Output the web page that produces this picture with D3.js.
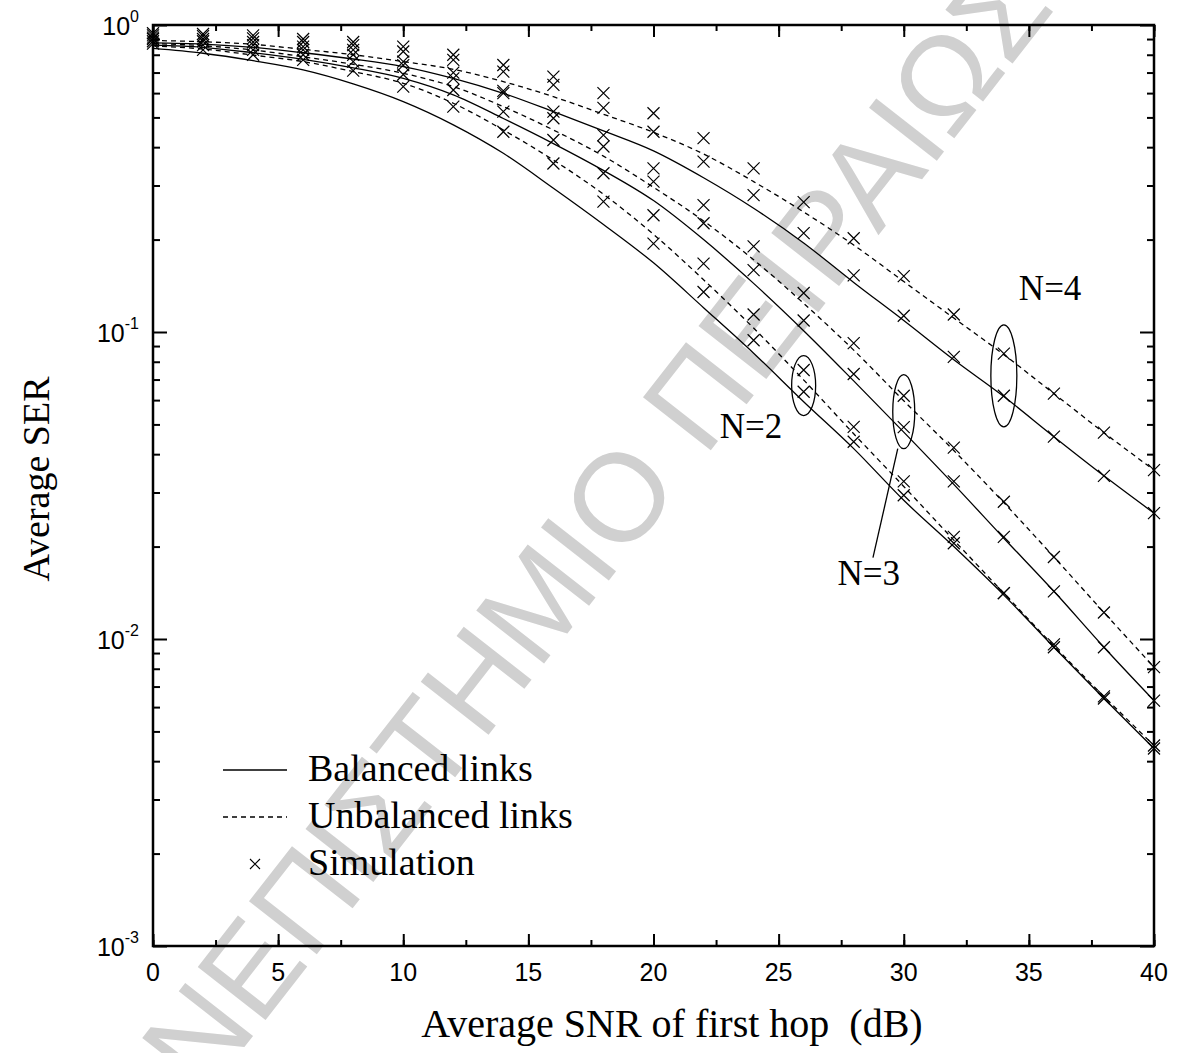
<!DOCTYPE html>
<html>
<head>
<meta charset="utf-8">
<script src="https://cdn.jsdelivr.net/npm/d3@7"></script>
<style>
  body { margin: 0; background: #fff; }
</style>
</head>
<body>
<div id="chart"></div>
<script>
'use strict';

// x values: average SNR of first hop (dB)
var snr = [0, 2, 4, 6, 8, 10, 12, 14, 16, 18, 20, 22, 24, 26, 28, 30, 32, 34, 36, 38, 40];

// analytical curves (average SER)
var n2Balanced   = [0.839, 0.809, 0.765, 0.714, 0.643, 0.563, 0.473, 0.382, 0.294, 0.224, 0.168, 0.120, 0.0853, 0.0593, 0.0417, 0.0283, 0.0200, 0.0139, 0.0094, 0.0064, 0.0044];
var n2Unbalanced = [0.855, 0.835, 0.798, 0.760, 0.705, 0.646, 0.556, 0.455, 0.363, 0.281, 0.208, 0.148, 0.103, 0.0698, 0.0466, 0.0314, 0.0210, 0.0141, 0.0095, 0.0065, 0.0045];
var n3Balanced   = [0.860, 0.846, 0.812, 0.773, 0.725, 0.670, 0.592, 0.496, 0.411, 0.336, 0.268, 0.200, 0.144, 0.101, 0.0693, 0.0472, 0.0319, 0.0213, 0.0143, 0.0094, 0.0063];
var n3Unbalanced = [0.870, 0.856, 0.829, 0.788, 0.745, 0.696, 0.630, 0.542, 0.455, 0.374, 0.296, 0.230, 0.172, 0.124, 0.0873, 0.0597, 0.0411, 0.0278, 0.0185, 0.0122, 0.0081];
var n4Balanced   = [0.875, 0.867, 0.846, 0.812, 0.775, 0.732, 0.670, 0.599, 0.522, 0.452, 0.389, 0.318, 0.253, 0.195, 0.145, 0.109, 0.0812, 0.0616, 0.0456, 0.034, 0.0257];
var n4Unbalanced = [0.890, 0.882, 0.865, 0.833, 0.800, 0.760, 0.717, 0.654, 0.584, 0.512, 0.447, 0.380, 0.309, 0.246, 0.192, 0.146, 0.111, 0.0844, 0.063, 0.047, 0.0355];

// simulation points
var simN2Balanced   = [0.870, 0.830, 0.800, 0.770, 0.710, 0.630, 0.542, 0.449, 0.354, 0.266, 0.194, 0.135, 0.094, 0.0639, 0.0439, 0.0294, 0.0205, 0.0141, 0.0094, 0.0064, 0.0044];
var simN2Unbalanced = [0.885, 0.860, 0.830, 0.800, 0.760, 0.690, 0.614, 0.522, 0.422, 0.329, 0.240, 0.167, 0.114, 0.0752, 0.0491, 0.0326, 0.0215, 0.0141, 0.0096, 0.0065, 0.0045];
var simN3Balanced   = [0.900, 0.885, 0.860, 0.830, 0.800, 0.740, 0.670, 0.600, 0.497, 0.402, 0.309, 0.226, 0.159, 0.109, 0.073, 0.049, 0.0326, 0.0215, 0.0143, 0.0094, 0.0063];
var simN3Unbalanced = [0.910, 0.900, 0.880, 0.850, 0.830, 0.760, 0.700, 0.610, 0.522, 0.438, 0.341, 0.259, 0.190, 0.134, 0.092, 0.062, 0.042, 0.028, 0.0185, 0.0122, 0.0081];
var simN4Balanced   = [0.925, 0.920, 0.905, 0.880, 0.860, 0.820, 0.770, 0.705, 0.638, 0.537, 0.449, 0.359, 0.279, 0.210, 0.153, 0.113, 0.083, 0.062, 0.0456, 0.034, 0.0257];
var simN4Unbalanced = [0.940, 0.935, 0.925, 0.900, 0.880, 0.850, 0.800, 0.741, 0.679, 0.600, 0.516, 0.428, 0.341, 0.265, 0.202, 0.152, 0.114, 0.085, 0.063, 0.047, 0.0355];

// ticks
var xTickLabels = [0, 5, 10, 15, 20, 25, 30, 35, 40];
var yTickExponents = [0, -1, -2, -3];

// annotations: ellipse centre (snr, ser), radii (px), label position (snr, ser)
var groups = [
  { name: 'N=2', cx: 26, cy: 0.0669, rx: 12, ry: 30, lx: 22.65, ly: 0.0452 },
  { name: 'N=3', cx: 30, cy: 0.0550, rx: 11, ry: 37, lx: 27.35, ly: 0.0150 },
  { name: 'N=4', cx: 34, cy: 0.0720, rx: 13, ry: 51, lx: 34.6, ly: 0.1270 }
];
// leader line end of N=3 (snr, ser)
var leaderEnd = [28.77, 0.0184];

var width = 1179, height = 1053;
var serif = '"Liberation Serif", "Times New Roman", Times, serif';
var sans = '"Liberation Sans", Arial, Helvetica, sans-serif';

var svg = d3.select('#chart')
  .append('svg')
  .attr('width', width)
  .attr('height', height)
  .style('display', 'block');

var x = d3.scaleLinear().domain([0, 40]).range([153, 1154]);
var y = d3.scaleLog().domain([1e-3, 1]).range([946, 25]);

// watermark
svg.append('text')
  .attr('transform', 'translate(542,595) rotate(-52)')
  .attr('text-anchor', 'middle')
  .attr('dy', '0.35em')
  .style('font-family', sans)
  .style('font-size', '125px')
  .attr('fill', '#d0d0d0')
  .text('ΠΑΝΕΠΙΣΤΗΜΙΟ ΠΕΙΡΑΙΩΣ');

// axes (ticks point inwards)
var xMinor = d3.range(0, 40.01, 2.5);
var yMajor = [1, 0.1, 0.01, 0.001];
var yMinor = y.ticks().filter(function(v){ return yMajor.indexOf(v) < 0; });

function tickAxis(axis, scale, values, size, tr) {
  var g = svg.append('g')
    .attr('transform', tr)
    .call(axis(scale).tickValues(values).tickSize(size).tickFormat(''));
  g.select('.domain').remove();
  g.selectAll('line').attr('stroke', '#000').attr('stroke-width', 2);
  return g;
}
tickAxis(d3.axisBottom, x, xMinor, -6, 'translate(0,946)');
tickAxis(d3.axisBottom, x, xTickLabels, -12, 'translate(0,946)');
tickAxis(d3.axisTop, x, xMinor, -6, 'translate(0,25)');
tickAxis(d3.axisTop, x, xTickLabels, -12, 'translate(0,25)');
tickAxis(d3.axisLeft, y, yMinor, -7, 'translate(153,0)');
tickAxis(d3.axisLeft, y, yMajor, -14, 'translate(153,0)');
tickAxis(d3.axisRight, y, yMinor, -7, 'translate(1154,0)');
tickAxis(d3.axisRight, y, yMajor, -14, 'translate(1154,0)');

// frame
svg.append('rect')
  .attr('x', x(0)).attr('y', y(1))
  .attr('width', x(40) - x(0)).attr('height', y(1e-3) - y(1))
  .attr('fill', 'none').attr('stroke', '#000').attr('stroke-width', 2.5);

// tick labels
svg.append('g').selectAll('text')
  .data(xTickLabels).enter()
  .append('text')
  .attr('x', function(d){ return x(d); })
  .attr('y', 981)
  .attr('text-anchor', 'middle')
  .style('font-family', sans).style('font-size', '25px')
  .text(function(d){ return d; });

var yl = svg.append('g').selectAll('text')
  .data(yTickExponents).enter()
  .append('text')
  .attr('x', 139)
  .attr('y', function(d){ return y(Math.pow(10, d)) + 10; })
  .attr('text-anchor', 'end')
  .style('font-family', sans).style('font-size', '25px');
yl.append('tspan').text('10');
yl.append('tspan')
  .attr('dy', -13)
  .style('font-size', '16px')
  .text(function(d){ return d; });

// axis titles
svg.append('text')
  .attr('x', 672).attr('y', 1037)
  .attr('text-anchor', 'middle')
  .style('font-family', serif).style('font-size', '40px')
  .style('white-space', 'pre')
  .text('Average SNR of first hop  (dB)');
svg.append('text')
  .attr('transform', 'translate(49,479) rotate(-90)')
  .attr('text-anchor', 'middle')
  .style('font-family', serif).style('font-size', '38px')
  .text('Average SER');

// curves
var plot = svg.append('g');
var line = d3.line()
  .x(function(d, i){ return x(snr[i]); })
  .y(function(d){ return y(d); })
  .curve(d3.curveMonotoneX);

var curves = [
  { v: n2Balanced, dash: null }, { v: n2Unbalanced, dash: '5,4' },
  { v: n3Balanced, dash: null }, { v: n3Unbalanced, dash: '5,4' },
  { v: n4Balanced, dash: null }, { v: n4Unbalanced, dash: '5,4' }
];
plot.selectAll('path.curve')
  .data(curves).enter()
  .append('path')
  .attr('class', 'curve')
  .attr('d', function(d){ return line(d.v); })
  .attr('fill', 'none')
  .attr('stroke', '#000')
  .attr('stroke-width', 1.3)
  .attr('stroke-dasharray', function(d){ return d.dash; });

// simulation crosses
var sims = [simN2Balanced, simN2Unbalanced, simN3Balanced, simN3Unbalanced, simN4Balanced, simN4Unbalanced];
var pts = [];
sims.forEach(function(s){
  s.forEach(function(v, i){ pts.push({ x: snr[i], y: v }); });
});
var cs = 6;
plot.selectAll('path.sim')
  .data(pts).enter()
  .append('path')
  .attr('class', 'sim')
  .attr('d', function(d){
    var px = x(d.x), py = y(d.y);
    return 'M' + (px - cs) + ',' + (py - cs) + 'L' + (px + cs) + ',' + (py + cs) +
           'M' + (px - cs) + ',' + (py + cs) + 'L' + (px + cs) + ',' + (py - cs);
  })
  .attr('stroke', '#000')
  .attr('stroke-width', 1.2)
  .attr('fill', 'none');

// ellipses and labels
var ann = svg.append('g');
ann.selectAll('ellipse')
  .data(groups).enter()
  .append('ellipse')
  .attr('cx', function(d){ return x(d.cx); })
  .attr('cy', function(d){ return y(d.cy); })
  .attr('rx', function(d){ return d.rx; })
  .attr('ry', function(d){ return d.ry; })
  .attr('fill', 'none')
  .attr('stroke', '#000')
  .attr('stroke-width', 1.3);
ann.selectAll('text')
  .data(groups).enter()
  .append('text')
  .attr('x', function(d){ return x(d.lx); })
  .attr('y', function(d){ return y(d.ly); })
  .style('font-family', serif).style('font-size', '35px')
  .text(function(d){ return d.name; });
// leader from N=3 ellipse to its label
var g3 = groups[1];
ann.append('line')
  .attr('x1', x(g3.cx) - 6).attr('y1', y(g3.cy) + g3.ry)
  .attr('x2', x(leaderEnd[0])).attr('y2', y(leaderEnd[1]))
  .attr('stroke', '#000').attr('stroke-width', 1.3);

// legend
var legend = svg.append('g').attr('transform', 'translate(223,770)');
var items = [
  { label: 'Balanced links', type: 'solid' },
  { label: 'Unbalanced links', type: 'dash' },
  { label: 'Simulation', type: 'cross' }
];
var row = legend.selectAll('g')
  .data(items).enter()
  .append('g')
  .attr('transform', function(d, i){ return 'translate(0,' + (i * 47) + ')'; });
row.filter(function(d){ return d.type !== 'cross'; })
  .append('line')
  .attr('x1', 0).attr('x2', 64).attr('y1', 0).attr('y2', 0)
  .attr('stroke', '#000').attr('stroke-width', 1.3)
  .attr('stroke-dasharray', function(d){ return d.type === 'dash' ? '5,4' : null; });
row.filter(function(d){ return d.type === 'cross'; })
  .append('path')
  .attr('d', 'M27,-5L37,5M27,5L37,-5')
  .attr('stroke', '#000').attr('stroke-width', 1.1);
row.append('text')
  .attr('x', 85).attr('y', 11)
  .style('font-family', serif).style('font-size', '38px')
  .text(function(d){ return d.label; });
</script>
</body>
</html>
